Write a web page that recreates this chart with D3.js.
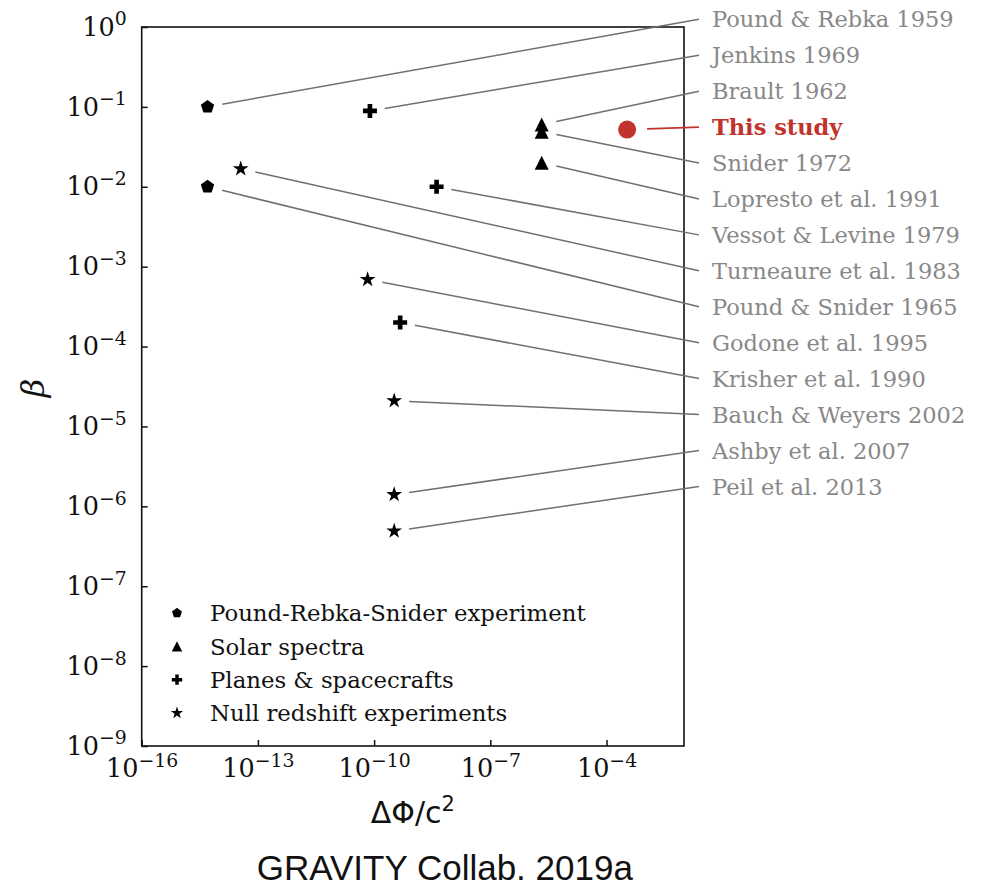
<!DOCTYPE html>
<html>
<head>
<meta charset="utf-8">
<script src="https://cdn.jsdelivr.net/npm/d3@7"></script>
<style>
  html, body { margin: 0; padding: 0; background: #fff; }
  svg { display: block; }
</style>
</head>
<body>
<svg id="chart" width="987" height="887"></svg>
<script>
// Gravitational redshift tests: potential difference vs. fractional deviation
const refs = ["Pound & Rebka 1959", "Jenkins 1969", "Brault 1962", "This study",
  "Snider 1972", "Lopresto et al. 1991", "Vessot & Levine 1979", "Turneaure et al. 1983",
  "Pound & Snider 1965", "Godone et al. 1995", "Krisher et al. 1990",
  "Bauch & Weyers 2002", "Ashby et al. 2007", "Peil et al. 2013"];
const kinds = ["prs", "plane", "solar", "this", "solar", "solar", "plane", "null",
  "prs", "null", "plane", "null", "null", "null"];
const deltaPhi = [5.0e-15, 7.8e-11, 2.12e-6, 3.4e-4, 2.12e-6, 2.12e-6, 4.1e-9, 3.6e-14,
  5.0e-15, 6.8e-11, 4.7e-10, 3.3e-10, 3.3e-10, 3.3e-10];
const beta = [0.1, 0.089, 0.06, 0.052, 0.049, 0.02, 0.01, 0.0168,
  0.01, 6.9e-4, 2.0e-4, 2.1e-5, 1.4e-6, 4.9e-7];

const legendLabels = ["Pound-Rebka-Snider experiment", "Solar spectra",
  "Planes & spacecrafts", "Null redshift experiments"];
const legendKinds = ["prs", "solar", "plane", "null"];

const xTickExp = [-16, -13, -10, -7, -4];
const yTickExp = [0, -1, -2, -3, -4, -5, -6, -7, -8, -9];

const svg = d3.select("#chart");
const plotL = 141.7, plotR = 684, plotT = 27, plotB = 746;

const x = d3.scaleLog().domain([1e-16, 1e-2]).range([plotL, plotR]);
const y = d3.scaleLog().domain([1e-9, 1]).range([plotB, plotT]);
const slot = d3.scalePoint().domain(d3.range(refs.length)).range([19.3, 486.4]);

const serif = "'DejaVu Serif', serif";
const sans = "'Liberation Sans', Arial, sans-serif";

// marker outlines, r = half-width
function shape(kind, r) {
  const p = d3.path();
  if (kind === "prs") {
    for (let k = 0; k < 5; k++) {
      const a = -Math.PI / 2 + k * 2 * Math.PI / 5;
      k ? p.lineTo(r * Math.cos(a), r * Math.sin(a)) : p.moveTo(r * Math.cos(a), r * Math.sin(a));
    }
  } else if (kind === "solar") {
    p.moveTo(0, -r); p.lineTo(-r, r); p.lineTo(r, r);
  } else if (kind === "plane") {
    const a = r / 3;
    const pts = [[-a,-r],[a,-r],[a,-a],[r,-a],[r,a],[a,a],[a,r],[-a,r],[-a,a],[-r,a],[-r,-a],[-a,-a]];
    pts.forEach((q, i) => i ? p.lineTo(q[0], q[1]) : p.moveTo(q[0], q[1]));
  } else if (kind === "null") {
    const ri = r * 0.381966;
    for (let k = 0; k < 10; k++) {
      const a = -Math.PI / 2 + k * Math.PI / 5;
      const rr = k % 2 ? ri : r;
      k ? p.lineTo(rr * Math.cos(a), rr * Math.sin(a)) : p.moveTo(rr * Math.cos(a), rr * Math.sin(a));
    }
  } else {
    p.moveTo(r, 0);
    p.arc(0, 0, r, 0, 2 * Math.PI);
  }
  p.closePath();
  return p.toString();
}
const markerR = { prs: 7, solar: 7, plane: 7, null: 8.3, this: 9 };
const legendR = { prs: 5.2, solar: 5.2, plane: 5.2, null: 6.5 };
const red = "#c1342b";

// power-of-ten tick labels
function powerLabel(sel, fontSize) {
  sel.each(function(d) {
    const t = d3.select(this).text(null)
      .attr("font-family", serif).attr("font-size", fontSize).attr("fill", "#111");
    const e = Math.round(Math.log10(d));
    t.append("tspan").text("10");
    t.append("tspan").attr("font-size", fontSize * 0.74).attr("dy", -fontSize * 0.4)
      .text(e < 0 ? "\u2212" + (-e) : String(e));
  });
}

const xAxis = svg.append("g").attr("transform", `translate(0,${plotB})`)
  .call(d3.axisBottom(x).tickValues(xTickExp.map(e => Math.pow(10, e)))
    .tickSizeInner(-6).tickSizeOuter(0).tickPadding(31));
xAxis.select(".domain").remove();
xAxis.selectAll(".tick line").attr("stroke", "#111").attr("stroke-width", 1.5);
xAxis.selectAll(".tick text").attr("dy", 0).call(powerLabel, 25.5);

const yAxis = svg.append("g").attr("transform", `translate(${plotL},0)`)
  .call(d3.axisLeft(y).tickValues(yTickExp.map(e => Math.pow(10, e)))
    .tickSizeInner(-6).tickSizeOuter(0).tickPadding(15));
yAxis.select(".domain").remove();
yAxis.selectAll(".tick line").attr("stroke", "#111").attr("stroke-width", 1.5);
yAxis.selectAll(".tick text").attr("dy", "0.32em").call(powerLabel, 25.5);

// frame
svg.append("rect").attr("x", plotL).attr("y", plotT)
  .attr("width", plotR - plotL).attr("height", plotB - plotT)
  .attr("fill", "none").attr("stroke", "#111").attr("stroke-width", 1.6);

// leader lines from each point to its reference label
const lineEndX = 699, labelX = 712;
const rows = refs.map((name, i) => ({
  name, kind: kinds[i], px: x(deltaPhi[i]), py: y(beta[i]), ly: slot(i)
}));
svg.append("g").selectAll("line").data(rows).join("line")
  .each(function(d) {
    const dx = lineEndX - d.px, dy = d.ly - d.py;
    const len = Math.hypot(dx, dy);
    const s = d.kind === "this" ? 20 : 15;
    d3.select(this)
      .attr("x1", d.px + dx / len * s).attr("y1", d.py + dy / len * s)
      .attr("x2", lineEndX).attr("y2", d.ly);
  })
  .attr("stroke", d => d.kind === "this" ? red : "#707070")
  .attr("stroke-width", d => d.kind === "this" ? 1.8 : 1.5);

// markers
svg.append("g").selectAll("path").data(rows).join("path")
  .attr("transform", d => `translate(${d.px},${d.py})`)
  .attr("d", d => shape(d.kind, markerR[d.kind]))
  .attr("fill", d => d.kind === "this" ? red : "#000");

// reference labels
svg.append("g").selectAll("text").data(rows).join("text")
  .attr("x", labelX).attr("y", d => d.ly).attr("dy", "0.36em")
  .attr("font-family", serif).attr("font-size", 22.5)
  .attr("font-weight", d => d.kind === "this" ? "bold" : "normal")
  .attr("fill", d => d.kind === "this" ? red : "#888")
  .text(d => d.name);

// legend
const legRow = d3.scalePoint().domain(d3.range(legendLabels.length)).range([613, 713]);
const leg = svg.append("g");
legendLabels.forEach((lab, i) => {
  leg.append("path").attr("transform", `translate(177,${legRow(i)})`)
    .attr("d", shape(legendKinds[i], legendR[legendKinds[i]])).attr("fill", "#000");
  leg.append("text").attr("x", 210).attr("y", legRow(i)).attr("dy", "0.36em")
    .attr("font-family", serif).attr("font-size", 22.8).attr("fill", "#111").text(lab);
});

// axis titles
const xt = svg.append("text").attr("x", (plotL + plotR) / 2).attr("y", 823)
  .attr("text-anchor", "middle").attr("font-family", "'DejaVu Sans', sans-serif")
  .attr("font-size", 30).attr("fill", "#111");
xt.append("tspan").text("\u0394\u03A6/c");
xt.append("tspan").attr("font-size", 21).attr("dy", -12).text("2");

svg.append("text").attr("transform", "translate(44,388) rotate(-90)")
  .attr("text-anchor", "middle").attr("font-family", serif).attr("font-style", "italic")
  .attr("font-size", 32).attr("fill", "#111").text("\u03B2");

svg.append("text").attr("x", (plotL + plotR) / 2 + 32).attr("y", 880)
  .attr("text-anchor", "middle").attr("font-family", sans).attr("font-size", 35)
  .attr("fill", "#111").text("GRAVITY Collab. 2019a");
</script>
</body>
</html>
